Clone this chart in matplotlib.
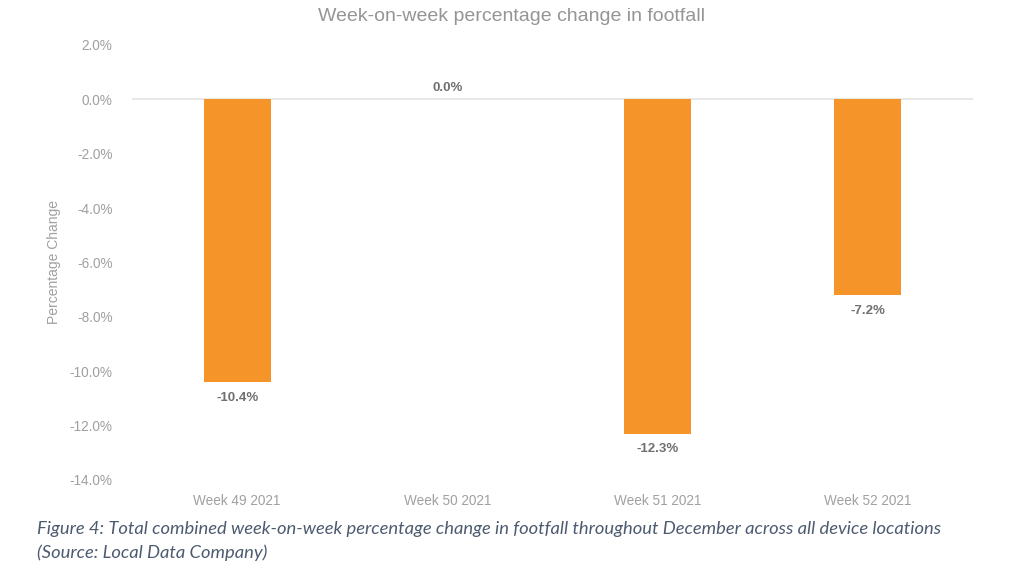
import matplotlib
matplotlib.use("Agg")
from matplotlib import pyplot as plt
from matplotlib.ticker import FuncFormatter
import numpy as np

# data
weeks = ["Week 49 2021", "Week 50 2021", "Week 51 2021", "Week 52 2021"]
change = [-10.4, 0.0, -12.3, -7.2]
yticks = np.arange(-14, 2.1, 2)

grey = "#a0a0a0"
orange = "#f49429"

plt.rcParams["font.family"] = ["Liberation Sans", "DejaVu Sans"]

fig = plt.figure(figsize=(10.24, 5.78), dpi=100)
ax = fig.add_axes([0.129, 0.1696, 0.821, 0.7526])

x = np.arange(len(weeks))
ax.bar(x, change, width=0.32, color=orange, zorder=2)
ax.axhline(0, color="#e4e4e4", lw=1.2, zorder=1)

# value labels
for xi, v in zip(x, change):
    if v < 0:
        ax.text(xi, v - 0.35, "%.1f%%" % v, ha="center", va="top",
                fontsize=9.5, fontweight="bold", color="#707070")
    else:
        ax.text(xi, v + 0.2, "%.1f%%" % v, ha="center", va="bottom",
                fontsize=9.5, fontweight="bold", color="#707070")

ax.set_xlim(-0.5, 3.5)
ax.set_ylim(-14, 2)
ax.set_yticks(yticks)
ax.yaxis.set_major_formatter(FuncFormatter(lambda v, p: "%.1f%%" % v))
ax.set_xticks(x)
ax.set_xticklabels(weeks)
ax.tick_params(length=0, colors=grey, labelsize=9.8)
ax.tick_params(axis="y", pad=14)
ax.tick_params(axis="x", pad=10)
for s in ax.spines.values():
    s.set_visible(False)

ax.set_ylabel("Percentage Change", color=grey, fontsize=10, labelpad=6)

fig.text(0.5, 0.972, "Week-on-week percentage change in footfall", ha="center",
         va="center", fontsize=14, color="#959595")

cap = ("Figure 4: Total combined week-on-week percentage change in footfall throughout December across all device locations\n"
       "(Source: Local Data Company)")
fig.text(0.036, 0.064, cap, ha="left", va="center", fontsize=13.2, style="italic",
         color="#4d5b70", linespacing=1.5, family=["Lato", "DejaVu Sans"])

fig.savefig("out.png", dpi=100)
